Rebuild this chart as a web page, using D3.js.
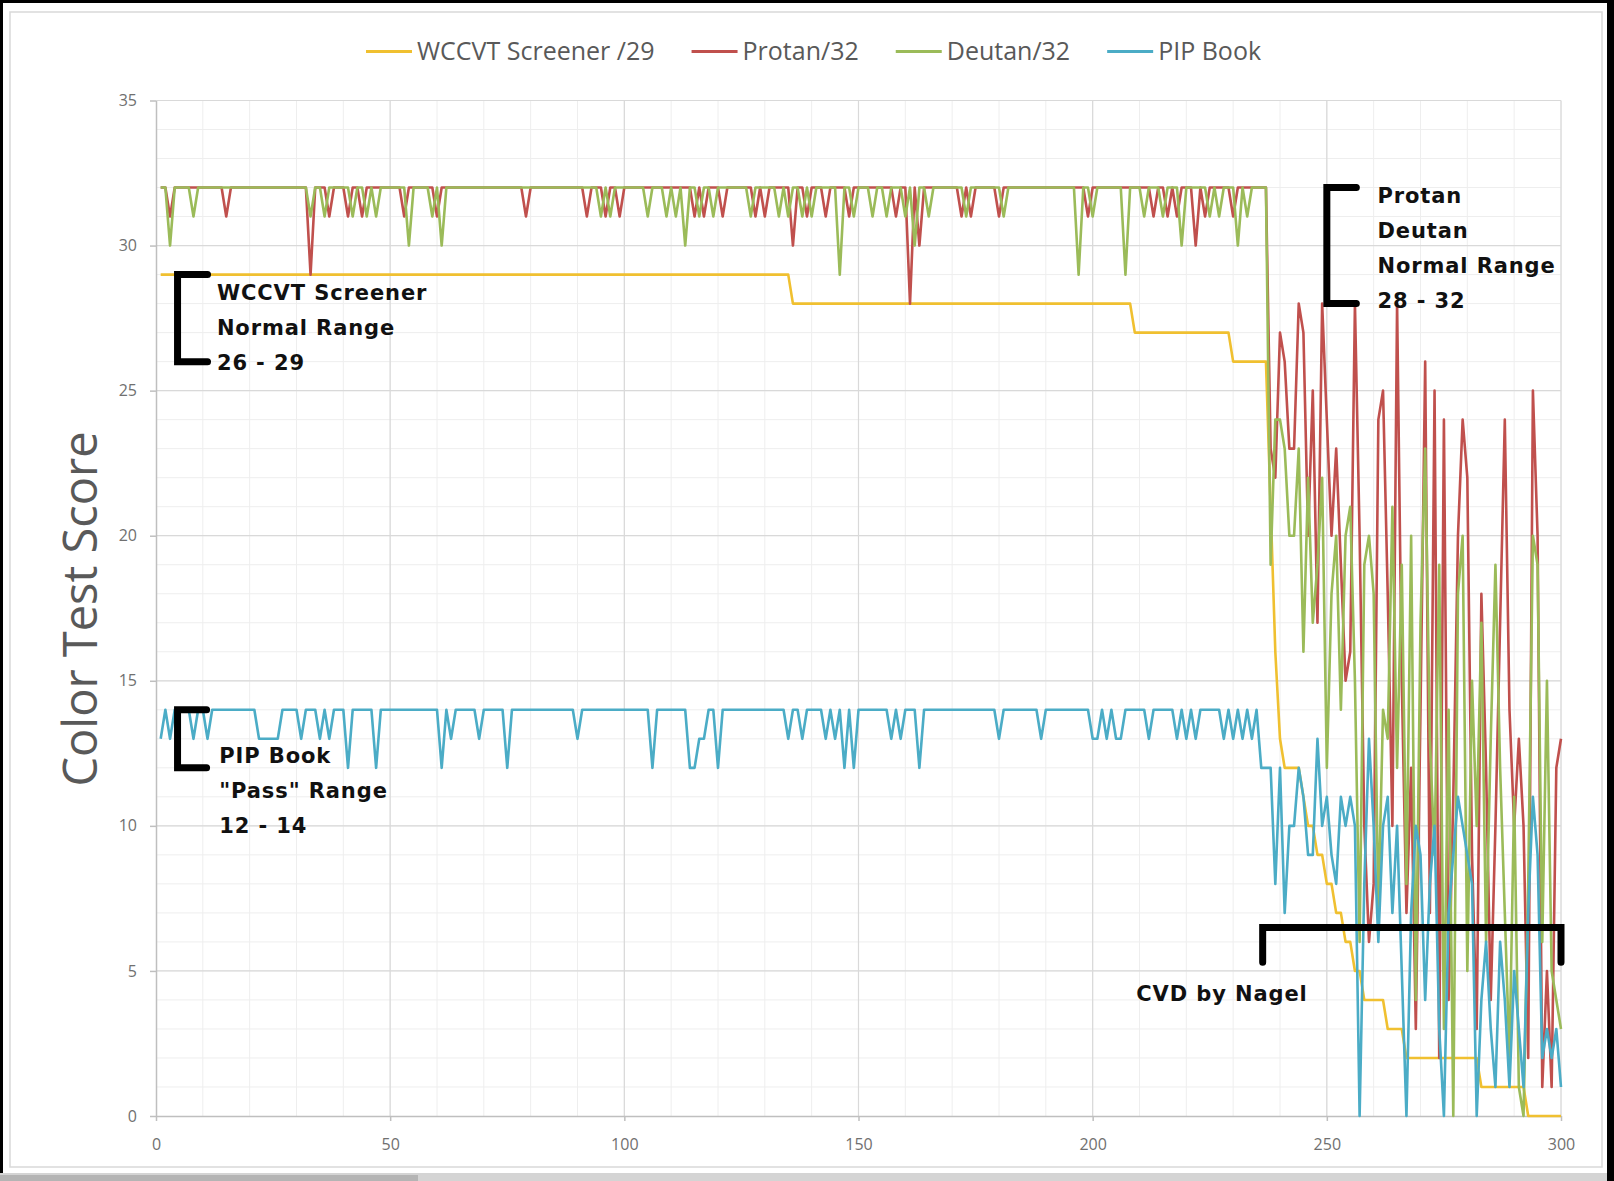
<!DOCTYPE html>
<html>
<head>
<meta charset="utf-8">
<script src="https://cdn.jsdelivr.net/npm/d3@7"></script>
<style>
  body { margin: 0; background: #000; }
  svg { display: block; }
</style>
</head>
<body>
<svg id="canvas" width="1614" height="1181"></svg>
<script>
let seriesNames = ["WCCVT Screener /29", "Protan/32", "Deutan/32", "PIP Book"];
let seriesColors = ["#F0C030", "#C0504D", "#9BBB59", "#4BACC6"];

// one value per subject, subjects 1..300
let wccvt = [
  29,29,29,29,29,29,29,29,29,29,29,29,29,29,29,29,29,29,29,29,
  29,29,29,29,29,29,29,29,29,29,29,29,29,29,29,29,29,29,29,29,
  29,29,29,29,29,29,29,29,29,29,29,29,29,29,29,29,29,29,29,29,
  29,29,29,29,29,29,29,29,29,29,29,29,29,29,29,29,29,29,29,29,
  29,29,29,29,29,29,29,29,29,29,29,29,29,29,29,29,29,29,29,29,
  29,29,29,29,29,29,29,29,29,29,29,29,29,29,29,29,29,29,29,29,
  29,29,29,29,29,29,29,29,29,29,29,29,29,29,29,28,28,28,28,28,
  28,28,28,28,28,28,28,28,28,28,28,28,28,28,28,28,28,28,28,28,
  28,28,28,28,28,28,28,28,28,28,28,28,28,28,28,28,28,28,28,28,
  28,28,28,28,28,28,28,28,28,28,28,28,28,28,28,28,28,28,28,28,
  28,28,28,28,28,28,28,28,27,27,27,27,27,27,27,27,27,27,27,27,
  27,27,27,27,27,27,27,27,27,26,26,26,26,26,26,26,26,21,16,13,
  12,12,12,12,11,10,10,9,9,8,8,7,7,6,6,5,5,4,4,4,
  4,4,3,3,3,3,2,2,2,2,2,2,2,2,2,2,2,2,2,2,
  2,2,1,1,1,1,1,1,1,1,1,1,0,0,0,0,0,0,0,0
];

let protan = [
  32,32,31,32,32,32,32,32,32,32,32,32,32,32,31,32,32,32,32,32,
  32,32,32,32,32,32,32,32,32,32,32,32,29,32,32,32,31,32,32,32,
  31,32,32,31,32,32,32,32,32,32,32,32,31,32,32,32,32,32,32,31,
  32,32,32,32,32,32,32,32,32,32,32,32,32,32,32,32,32,32,31,32,
  32,32,32,32,32,32,32,32,32,32,32,31,32,32,32,31,32,32,31,32,
  32,32,32,32,32,32,32,32,32,32,32,32,32,32,31,32,31,32,32,32,
  31,32,32,32,32,32,32,31,32,31,32,32,32,32,32,30,32,32,31,32,
  32,32,31,32,32,32,32,31,32,32,32,32,32,32,32,32,32,31,32,32,
  28,32,30,32,32,32,32,32,32,32,32,31,32,31,32,32,32,32,32,31,
  32,32,32,32,32,32,32,32,32,32,32,32,32,32,32,32,32,32,31,32,
  32,32,32,32,32,32,32,32,32,32,32,32,31,32,32,31,32,31,32,32,
  32,30,32,31,32,32,32,32,32,31,32,32,32,32,32,32,32,23,22,27,
  26,23,23,28,27,20,25,17,28,24,20,23,19,15,16,28,20,10,6,8,
  24,25,18,10,28,15,7,12,3,14,26,7,25,2,24,4,11,20,24,22,
  9,3,18,12,4,10,17,24,14,10,13,10,2,25,20,1,5,1,12,13
];

let deutan = [
  32,32,30,32,32,32,32,31,32,32,32,32,32,32,32,32,32,32,32,32,
  32,32,32,32,32,32,32,32,32,32,32,32,31,32,32,31,32,32,32,32,
  32,31,32,32,31,32,31,32,32,32,32,32,32,30,32,32,32,32,31,32,
  30,32,32,32,32,32,32,32,32,32,32,32,32,32,32,32,32,32,32,32,
  32,32,32,32,32,32,32,32,32,32,32,32,32,32,31,32,31,32,32,32,
  32,32,32,32,31,32,32,32,31,32,31,32,30,32,32,31,32,32,31,32,
  32,32,32,32,32,32,31,32,32,32,32,32,31,32,31,32,32,31,32,31,
  32,32,32,32,32,29,32,32,31,32,32,32,31,32,32,31,32,32,32,31,
  32,30,32,32,31,32,32,32,32,32,32,32,31,32,32,32,32,32,32,32,
  31,32,32,32,32,32,32,32,32,32,32,32,32,32,32,32,29,32,32,31,
  32,32,32,32,32,32,29,32,32,32,31,32,32,32,31,32,32,32,30,32,
  32,32,32,32,31,32,31,32,32,32,30,32,31,32,32,32,32,19,24,24,
  23,20,20,23,16,22,17,19,22,12,18,20,14,20,21,15,6,19,20,18,
  7,14,13,21,12,19,8,20,4,17,23,13,9,19,3,14,0,18,20,5,
  15,10,17,6,13,19,12,7,2,11,1,0,8,20,19,6,15,5,4,3
];

let pipBook = [
  13,14,13,14,14,14,14,13,14,14,13,14,14,14,14,14,14,14,14,14,
  14,13,13,13,13,13,14,14,14,14,13,14,14,14,13,14,13,14,14,14,
  12,14,14,14,14,14,12,14,14,14,14,14,14,14,14,14,14,14,14,14,
  12,14,13,14,14,14,14,14,13,14,14,14,14,14,12,14,14,14,14,14,
  14,14,14,14,14,14,14,14,14,13,14,14,14,14,14,14,14,14,14,14,
  14,14,14,14,14,12,14,14,14,14,14,14,14,12,12,13,13,14,14,12,
  14,14,14,14,14,14,14,14,14,14,14,14,14,14,13,14,14,13,14,14,
  14,14,13,14,13,14,12,14,12,14,14,14,14,14,14,14,13,14,13,14,
  14,14,12,14,14,14,14,14,14,14,14,14,14,14,14,14,14,14,14,13,
  14,14,14,14,14,14,14,14,13,14,14,14,14,14,14,14,14,14,14,13,
  13,14,13,14,13,13,14,14,14,14,14,13,14,14,14,14,14,13,14,13,
  14,13,14,14,14,14,14,13,14,13,14,13,14,13,14,12,12,12,8,12,
  7,10,10,12,11,9,9,13,10,11,9,8,11,10,11,10,0,8,13,10,
  6,10,11,7,10,5,0,7,10,9,4,8,10,3,0,7,9,11,10,9,
  8,0,4,6,3,1,6,4,1,5,3,1,7,11,9,2,3,2,3,1
];

let xTicks = [0, 50, 100, 150, 200, 250, 300];
let yTicks = [0, 5, 10, 15, 20, 25, 30, 35];

let canvas = d3.select("#canvas");

let xScale = d3.scaleLinear().domain([0, 300]).range([156, 1561]);
let yScale = d3.scaleLinear().domain([0, 35]).range([1116, 100.5]);

// page frame
canvas.append("rect").attr("x", 3).attr("y", 3).attr("width", 1604).attr("height", 1170).attr("fill", "#fff");
canvas.append("rect").attr("x", 0).attr("y", 1173).attr("width", 1607).attr("height", 8).attr("fill", "#d4d4d4");
canvas.append("rect").attr("x", 0).attr("y", 1175).attr("width", 418).attr("height", 6).attr("fill", "#b4b4b4");
canvas.append("rect")
  .attr("x", 10).attr("y", 12).attr("width", 1592).attr("height", 1155)
  .attr("fill", "none").attr("stroke", "#d9d9d9").attr("stroke-width", 1.5);

// minor grid
canvas.append("g").selectAll("line").data(d3.range(1, 35)).enter().append("line")
  .attr("x1", xScale(0)).attr("x2", xScale(300))
  .attr("y1", (v) => yScale(v)).attr("y2", (v) => yScale(v))
  .attr("stroke", "#eeeeee").attr("stroke-width", 1);
canvas.append("g").selectAll("line").data(d3.range(10, 301, 10)).enter().append("line")
  .attr("x1", (v) => xScale(v)).attr("x2", (v) => xScale(v))
  .attr("y1", yScale(0)).attr("y2", yScale(35))
  .attr("stroke", "#eeeeee").attr("stroke-width", 1);

// major grid
canvas.append("g").selectAll("line").data(yTicks.slice(1)).enter().append("line")
  .attr("x1", xScale(0)).attr("x2", xScale(300))
  .attr("y1", (v) => yScale(v)).attr("y2", (v) => yScale(v))
  .attr("stroke", "#d9d9d9").attr("stroke-width", 1.2);
canvas.append("g").selectAll("line").data(xTicks.slice(1)).enter().append("line")
  .attr("x1", (v) => xScale(v)).attr("x2", (v) => xScale(v))
  .attr("y1", yScale(0)).attr("y2", yScale(35))
  .attr("stroke", "#d9d9d9").attr("stroke-width", 1.2);

// axes
let yAxis = canvas.append("g")
  .attr("transform", "translate(" + xScale(0) + ",0)")
  .call(d3.axisLeft(yScale).tickValues(yTicks).tickSize(6).tickSizeOuter(0).tickPadding(13));
let xAxis = canvas.append("g")
  .attr("transform", "translate(0," + yScale(0) + ")")
  .call(d3.axisBottom(xScale).tickValues(xTicks).tickSize(5).tickSizeOuter(0).tickPadding(18));

[yAxis, xAxis].forEach((axis) => {
  axis.select(".domain").attr("stroke", "#bfbfbf").attr("stroke-width", 1.5);
  axis.selectAll(".tick line").attr("stroke", "#bfbfbf").attr("stroke-width", 1.5);
  axis.selectAll(".tick text")
    .attr("fill", "#707070")
    .style("font-family", "'Open Sans', sans-serif")
    .style("font-size", "16px");
});

canvas.append("text")
  .attr("transform", "translate(97,609) rotate(-90)")
  .attr("text-anchor", "middle")
  .attr("fill", "#595959")
  .style("font-family", "'Open Sans', sans-serif")
  .style("font-size", "47px")
  .text("Color Test Score");

// series lines
let allSeries = [wccvt, protan, deutan, pipBook];
let line = d3.line()
  .x((v, i) => xScale(i + 1))
  .y((v) => yScale(v));

canvas.append("g").selectAll("path").data(allSeries).enter().append("path")
  .attr("d", line)
  .attr("fill", "none")
  .attr("stroke", (s, i) => seriesColors[i])
  .attr("stroke-width", 2.6)
  .attr("stroke-linejoin", "round");

// legend
let legend = canvas.append("g");
let cursor = 366;
seriesNames.forEach((name, i) => {
  legend.append("line")
    .attr("x1", cursor).attr("x2", cursor + 46)
    .attr("y1", 51.5).attr("y2", 51.5)
    .attr("stroke", seriesColors[i]).attr("stroke-width", 3);
  let label = legend.append("text")
    .attr("x", cursor + 51).attr("y", 51.5)
    .attr("dy", "0.35em")
    .attr("fill", "#595959")
    .style("font-family", "'Open Sans', sans-serif")
    .style("font-size", "25px")
    .text(name);
  cursor += 51 + label.node().getComputedTextLength() + 37;
});

// range brackets, in data units
let brackets = [
  [[11, 29], [4.6, 29], [4.6, 26], [11, 26]],
  [[10.8, 14], [4.6, 14], [4.6, 12], [10.8, 12]],
  [[256.3, 32], [250, 32], [250, 28], [256.3, 28]],
  [[236.3, 5.3], [236.3, 6.5], [300, 6.5], [300, 5.3]]
];
let notes = [
  { x: 13, y: 28.13, lines: ["WCCVT Screener", "Normal Range", "26 - 29"] },
  { x: 13.5, y: 12.18, lines: ["PIP Book", "\"Pass\" Range", "12 - 14"] },
  { x: 260.8, y: 31.46, lines: ["Protan", "Deutan", "Normal Range", "28 - 32"] },
  { x: 209.3, y: 3.95, lines: ["CVD by Nagel"] }
];

let bracketLine = d3.line().x((p) => xScale(p[0])).y((p) => yScale(p[1]));
canvas.append("g").selectAll("path").data(brackets).enter().append("path")
  .attr("d", bracketLine)
  .attr("fill", "none")
  .attr("stroke", "#000")
  .attr("stroke-width", 7)
  .attr("stroke-linecap", "round")
  .attr("stroke-linejoin", "miter");

notes.forEach((note) => {
  let t = canvas.append("text")
    .attr("fill", "#111")
    .style("font-family", "'DejaVu Sans', sans-serif")
    .style("font-weight", "bold")
    .style("font-size", "21px")
    .style("letter-spacing", "0.9px");
  note.lines.forEach((txt, k) => {
    t.append("tspan")
      .attr("x", xScale(note.x))
      .attr("y", yScale(note.y) + k * 35)
      .text(txt);
  });
});
</script>
</body>
</html>
